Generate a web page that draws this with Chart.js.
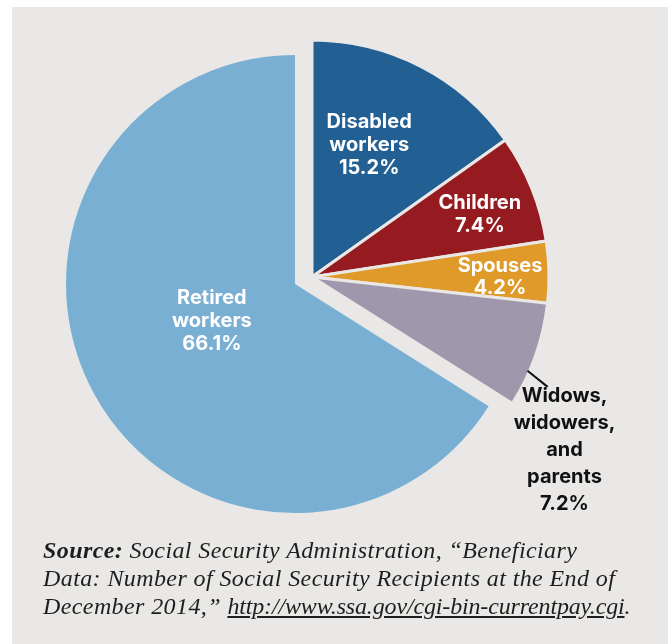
<!DOCTYPE html>
<html>
<head>
<meta charset="utf-8">
<script src="https://cdn.jsdelivr.net/npm/chart.js@4"></script>
<style>
body{margin:0;background:#fff;}
#wrap{position:relative;width:668px;height:644px;overflow:hidden;}
#bg{position:absolute;left:12px;top:7px;right:0;bottom:0;background:#e9e8e6;}
canvas{position:absolute;left:0;top:0;}
#source{position:absolute;left:43px;top:536px;font-family:"Liberation Serif",serif;font-style:italic;font-size:24px;line-height:28px;letter-spacing:0.4px;color:#1e1e1e;white-space:nowrap;}
#source a{color:#1e1e1e;text-decoration:underline;letter-spacing:-0.15px;}
</style>
</head>
<body>
<div id="wrap">
    <div id="bg"></div>
    <canvas id="pieRetired" width="668" height="644"></canvas>
    <canvas id="pieOthers" width="668" height="644"></canvas>
    <div id="source"><b>Source:</b> Social Security Administration, “Beneficiary<br>Data: Number of Social Security Recipients at the End of<br>December 2014,” <a>http://www.ssa.gov/cgi-bin-currentpay.cgi</a>.</div>
</div>
<script>
// data (clockwise from 12 o'clock)
const categories = ["Disabled workers", "Children", "Spouses", "Widows, widowers, and parents", "Retired workers"];
const shares = [15.2, 7.4, 4.2, 7.2, 66.1];
const colors = ['#225f92', '#961b20', '#e09a2a', '#9f97ab', '#7aafd4'];

// how each label is broken into lines
const labelLines = [["Disabled", "workers"], ["Children"], ["Spouses"], ["Widows,", "widowers,", "and", "parents"], ["Retired", "workers"]];
// label spot: [angle from top in degrees, distance from pie centre]
const labelAt = [[23.4, 144], [69.7, 179], [90, 188], [124.4, 306], [246, 91]];
const labelGap = [23, 23, 22, 27, 23];
const labelColor = ['#fff', '#fff', '#fff', '#111', '#fff'];

const bgColor = '#e9e8e6';
const RETIRED = 4;

const labelPlugin = {
    id: 'sliceLabels',
    afterDraw(chart) {
        const show = chart.options.plugins.sliceLabels.show;
        const arcs = chart.getDatasetMeta(0).data;
        const ctx = chart.ctx;
        ctx.save();
        ctx.textAlign = 'center';
        ctx.textBaseline = 'middle';
        ctx.font = 'bold 20px Inter, Roboto, sans-serif';
        show.forEach(i => {
            const arc = arcs[i];
            const a = labelAt[i][0] * Math.PI / 180;
            const cx = arc.x + labelAt[i][1] * Math.sin(a);
            const cy = arc.y - labelAt[i][1] * Math.cos(a);
            const lines = labelLines[i].concat([shares[i].toFixed(1) + "%"]);
            const top = cy - (lines.length - 1) * labelGap[i] / 2;
            ctx.fillStyle = labelColor[i];
            lines.forEach((t, k) => ctx.fillText(t, cx, top + k * labelGap[i]));

            // leader line for the outside label
            if (i == 3) {
                const a1 = 113.5 * Math.PI / 180, a2 = 115 * Math.PI / 180;
                const r1 = arc.outerRadius - 2, r2 = arc.outerRadius + 23;
                ctx.strokeStyle = '#111';
                ctx.lineWidth = 2;
                ctx.beginPath();
                ctx.moveTo(arc.x + r1 * Math.sin(a1), arc.y - r1 * Math.cos(a1));
                ctx.lineTo(arc.x + r2 * Math.sin(a2), arc.y - r2 * Math.cos(a2));
                ctx.stroke();
            }
        });
        ctx.restore();
    }
};

function makePie(el, visible, radius, padding, border) {
    return new Chart(document.getElementById(el), {
        type: 'pie',
        data: {
            labels: categories,
            datasets: [{
                data: shares,
                backgroundColor: colors.map((c, i) => visible.includes(i) ? c : 'rgba(0,0,0,0)'),
                borderColor: bgColor,
                borderWidth: colors.map((c, i) => visible.includes(i) ? border : 0),
                radius: radius
            }]
        },
        options: {
            responsive: false,
            animation: false,
            events: [],
            layout: { padding: padding },
            plugins: {
                legend: { display: false },
                tooltip: { enabled: false },
                sliceLabels: { show: visible }
            }
        },
        plugins: [labelPlugin]
    });
}

// retired slice stays put, the other four are pulled out together
makePie('pieRetired', [RETIRED], 229, { left: 0, top: 0, right: 78, bottom: 76 }, 0);
makePie('pieOthers', [0, 1, 2, 3], 237, { left: 0, top: 0, right: 44, bottom: 90 }, 3);
</script>
</body>
</html>
